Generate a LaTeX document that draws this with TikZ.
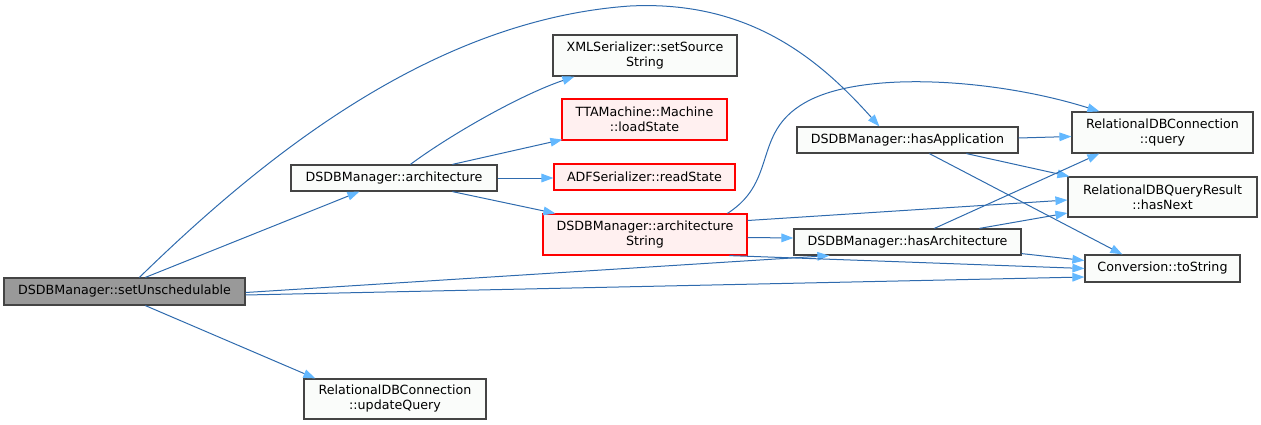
\documentclass[tikz,border=0pt]{standalone}
\usepackage{fontspec}
\setmainfont{DejaVu Sans}
\usetikzlibrary{arrows.meta,calc}
\definecolor{edgeblue}{HTML}{2F6BAE}
\definecolor{tipblue}{HTML}{63B8FF}
\definecolor{nodegray}{HTML}{444444}
\definecolor{nodefill}{HTML}{FAFCFA}
\definecolor{rootfill}{HTML}{999999}
\definecolor{redfill}{HTML}{FFF0F0}
\begin{document}
\begin{tikzpicture}[x=0.75pt,y=-0.75pt,
	font=\fontsize{9.5}{11.25}\selectfont,
	fn/.style={draw=nodegray,fill=nodefill,line width=0.9pt,inner sep=0pt,align=center},
	root/.style={fn,fill=rootfill},
	redfn/.style={fn,draw=red,fill=redfill},
	call/.style={draw=edgeblue,line width=0.75pt,-{Triangle[length=9pt,width=6.5pt,color=tipblue]}}]
\useasboundingbox (0,0) rectangle (1261,425);

	\node[root, minimum width=180.75pt, minimum height=20.25pt] (setUnsched) at (124.5,291.5) {DSDBManager::setUnschedulable};
	\node[fn, minimum width=154.5pt, minimum height=19.5pt] (arch) at (394,178) {DSDBManager::architecture};
	\node[fn, minimum width=136.5pt, minimum height=30pt] (updQuery) at (395,399) {RelationalDBConnection\\::updateQuery};
	\node[fn, minimum width=138pt, minimum height=30.75pt] (setSource) at (645,55.5) {XMLSerializer::setSource\\String};
	\node[redfn, minimum width=123.75pt, minimum height=30.75pt] (loadState) at (644.5,119.5) {TTAMachine::Machine\\::loadState};
	\node[redfn, minimum width=135.75pt, minimum height=19.5pt] (readState) at (644.5,177) {ADFSerializer::readState};
	\node[redfn, minimum width=153pt, minimum height=30.75pt] (archString) at (645,234.5) {DSDBManager::architecture\\String};
	\node[fn, minimum width=165.75pt, minimum height=19.5pt] (hasApp) at (907.5,140) {DSDBManager::hasApplication};
	\node[fn, minimum width=170.25pt, minimum height=19.5pt] (hasArch) at (907.5,242) {DSDBManager::hasArchitecture};
	\node[fn, minimum width=135.75pt, minimum height=30.75pt] (query) at (1162.5,132.5) {RelationalDBConnection\\::query};
	\node[fn, minimum width=141.75pt, minimum height=30pt] (hasNext) at (1162.5,197) {RelationalDBQueryResult\\::hasNext};
	\node[fn, minimum width=116.25pt, minimum height=20.25pt] (toStr) at (1162.5,268.5) {Conversion::toString};

	\draw[call] ($(setUnsched.north west)+(142,0)$) -- ($(arch.south west)+(69,0)$);
	\draw[call] ($(setUnsched.north west)+(136,0)$) .. controls (260,160) and (430,20) .. (630,6) .. controls (750,0) and (820,60) .. ($(hasApp.north west)+(83,0)$);
	\draw[call] ($(setUnsched.south west)+(142,0)$) -- ($(updQuery.north west)+(12,0)$);
	\draw[call] ($(setUnsched.east)+(0,1)$) -- ($(hasArch.south west)+(36,0)$);
	\draw[call] ($(setUnsched.east)+(0,3.5)$) -- ($(toStr.west)+(0,8.5)$);

	\draw[call] ($(arch.north west)+(120,0)$) .. controls (450,135) and (520,95) .. ($(setSource.south west)+(22,0)$);
	\draw[call] ($(arch.north west)+(162,0)$) -- ($(loadState.south west)+(1,-1)$);
	\draw[call] (arch.east) -- (arch.east -| readState.west);
	\draw[call] ($(arch.south west)+(162,0)$) -- ($(archString.north west)+(13,0)$);

	\draw[call] ($(archString.north west)+(185,0)$) .. controls (780,180) and (750,130) .. (810,100) .. controls (870,70) and (1000,80) .. ($(query.north west)+(28,0)$);
	\draw[call] ($(archString.east)+(0,-14)$) -- ($(hasNext.west)+(0,3)$);
	\draw[call] ($(archString.east)+(0,3)$) -- ($(hasArch.west)+(0,-4)$);
	\draw[call] ($(archString.south west)+(187,0)$) -- (toStr.west);

	\draw[call] ($(hasApp.east)+(0,-2)$) -- ($(query.west)+(0,4)$);
	\draw[call] ($(hasApp.south west)+(170,0)$) -- ($(hasNext.north west)+(2,0)$);
	\draw[call] ($(hasApp.south west)+(133,0)$) -- ($(toStr.north west)+(38,0)$);

	\draw[call] ($(hasArch.north west)+(141,0)$) -- ($(query.south west)+(28,0)$);
	\draw[call] ($(hasArch.north west)+(186,0)$) -- ($(hasNext.west)+(0,16)$);
	\draw[call] ($(hasArch.south east)+(0,-2)$) -- ($(toStr.west)+(0,-8)$);
\end{tikzpicture}
\end{document}
